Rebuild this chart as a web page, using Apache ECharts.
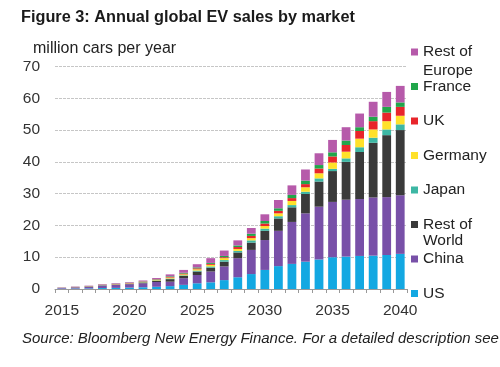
<!DOCTYPE html>
<html>
<head>
<meta charset="utf-8">
<script src="https://cdn.jsdelivr.net/npm/echarts@6/dist/echarts.min.js"></script>
<style>
html,body{margin:0;padding:0;background:#fff;}
#chart{width:500px;height:367px;}
</style>
</head>
<body>
<div id="chart"></div>
<script>
const years = ['2015','2016','2017','2018','2019','2020','2021','2022','2023','2024','2025','2026','2027','2028','2029','2030','2031','2032','2033','2034','2035','2036','2037','2038','2039','2040'];
const us      = [0.12,0.16,0.2,0.3,0.35,0.45,0.55,0.7,0.9,1.3,1.8,2.1,2.8,3.7,4.7,6.0,7.2,7.9,8.6,9.3,10.0,10.2,10.4,10.5,10.7,11.05];
const china   = [0.2,0.35,0.5,0.8,0.95,1.05,1.25,1.5,1.4,2.1,2.6,3.4,4.3,6.0,7.6,9.4,11.1,13.2,15.2,16.6,17.4,17.9,17.9,18.3,18.2,18.45];
const restOfWorld = [0.03,0.04,0.06,0.08,0.1,0.15,0.25,0.4,0.8,0.7,1.1,1.2,1.5,1.8,2.3,2.9,3.9,4.6,6.1,7.9,9.7,11.9,14.8,17.2,19.5,20.5];
const japan   = [0.02,0.02,0.03,0.04,0.05,0.06,0.08,0.1,0.2,0.2,0.3,0.4,0.5,0.5,0.7,0.7,0.7,0.7,0.7,1.0,0.7,1.1,1.5,1.6,1.8,1.8];
const germany = [0.02,0.03,0.05,0.07,0.08,0.1,0.12,0.16,0.3,0.3,0.4,0.5,0.6,0.6,0.7,0.8,0.9,1.3,1.4,1.6,2.0,2.1,2.7,2.6,2.6,2.7];
const uk      = [0.03,0.04,0.05,0.06,0.07,0.08,0.1,0.13,0.2,0.25,0.3,0.3,0.3,0.6,0.7,0.8,0.8,0.9,1.0,1.5,1.9,2.1,2.4,2.6,2.7,2.8];
const france  = [0.02,0.03,0.04,0.05,0.06,0.07,0.08,0.11,0.2,0.25,0.3,0.3,0.4,0.5,0.7,0.8,0.8,1.0,1.1,1.1,1.3,1.4,1.2,1.4,1.8,1.4];
const restOfEurope = [0.08,0.1,0.12,0.15,0.18,0.2,0.25,0.35,0.6,0.9,1.0,1.5,1.7,1.6,1.8,2.1,2.6,3.0,3.5,3.7,3.9,4.2,4.3,4.7,4.7,5.2];
const yTicks = {min: 0, max: 70, interval: 10};

const seriesDefs = [
  {name: 'US', data: us, color: '#13A8E2'},
  {name: 'China', data: china, color: '#7850A8'},
  {name: 'Rest of World', data: restOfWorld, color: '#3A3A3A'},
  {name: 'Japan', data: japan, color: '#3DB7A4'},
  {name: 'Germany', data: germany, color: '#FFE12A'},
  {name: 'UK', data: uk, color: '#E8252B'},
  {name: 'France', data: france, color: '#21A64B'},
  {name: 'Rest of Europe', data: restOfEurope, color: '#B65AAA'}
];

const FONT = '"Liberation Sans", Arial, Helvetica, sans-serif';
const chart = echarts.init(document.getElementById('chart'), null, {renderer: 'canvas'});
chart.setOption({
  animation: false,
  backgroundColor: '#fff',
  textStyle: {fontFamily: FONT},
  title: [
    {text: 'Figure 3: Annual global EV sales by market', left: 21, top: 10, padding: 0,
     textStyle: {fontFamily: FONT, fontSize: 16.3, fontWeight: 'bold', color: '#1a1a1a'}},
    {text: 'million cars per year', left: 33, top: 41, padding: 0,
     textStyle: {fontFamily: FONT, fontSize: 16, fontWeight: 'normal', color: '#222'}},
    {text: 'Source: Bloomberg New Energy Finance. For a detailed description see the appendix', left: 22, top: 331, padding: 0,
     textStyle: {fontFamily: FONT, fontSize: 15, fontWeight: 'normal', fontStyle: 'italic', color: '#222'}}
  ],
  legend: {
    orient: 'vertical',
    left: 411,
    top: 44,
    padding: 0,
    itemWidth: 7,
    itemHeight: 7,
    itemGap: 18.5,
    icon: 'rect',
    data: ['Rest of Europe','France','UK','Germany','Japan','Rest of World','China','US'],
    formatter: function (n) { return n.indexOf('Rest of') === 0 ? 'Rest of' : n; },
    textStyle: {fontFamily: FONT, fontSize: 15.5, color: '#222'}
  },
  graphic: [
    {type: 'text', left: 423, top: 63, style: {text: 'Europe', font: '15.5px ' + FONT, fill: '#222'}},
    {type: 'text', left: 423, top: 233, style: {text: 'World', font: '15.5px ' + FONT, fill: '#222'}}
  ],
  grid: {left: 55, right: 93, top: 66.5, bottom: 78, containLabel: false},
  xAxis: {
    type: 'category',
    data: years,
    boundaryGap: true,
    axisLine: {lineStyle: {color: '#999', width: 1}},
    axisTick: {show: true, interval: 0, length: 4, lineStyle: {color: '#999'}},
    axisLabel: {interval: 4, color: '#333', fontSize: 15.5, fontFamily: FONT, margin: 14}
  },
  yAxis: {
    type: 'value',
    min: yTicks.min, max: yTicks.max, interval: yTicks.interval,
    axisLine: {show: false},
    axisTick: {show: false},
    axisLabel: {color: '#333', fontSize: 15.5, fontFamily: FONT, margin: 15},
    splitLine: {lineStyle: {color: '#c6c6c6', type: [3, 1], width: 1}}
  },
  series: seriesDefs.map(s => ({
    name: s.name,
    type: 'bar',
    stack: 'total',
    barWidth: '65%',
    data: s.data,
    itemStyle: {color: s.color}
  }))
});
</script>
</body>
</html>
